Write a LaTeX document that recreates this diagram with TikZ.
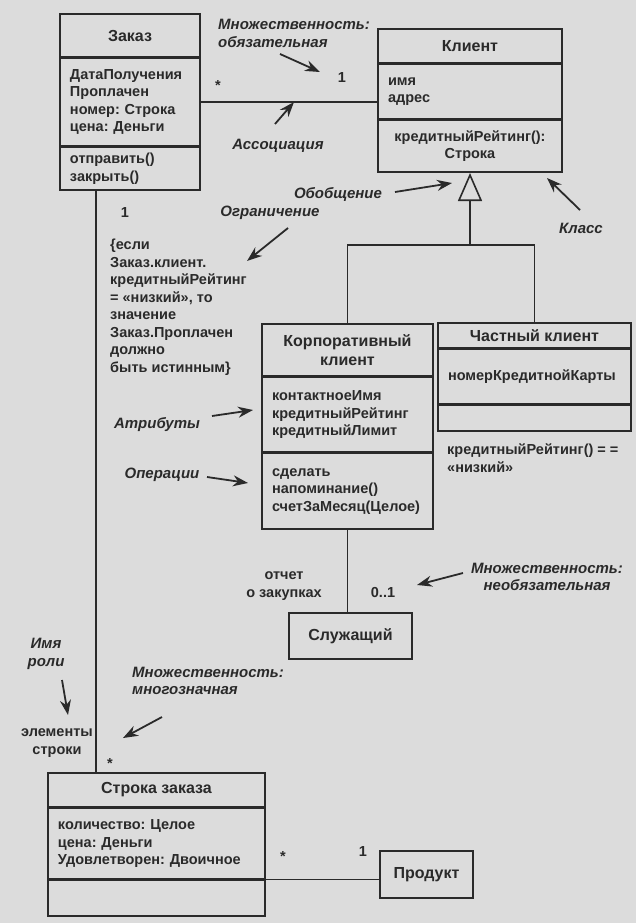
\documentclass[tikz,border=0pt]{standalone}
\usepackage{fontspec}
\setmainfont{Liberation Sans}
\usetikzlibrary{positioning,arrows.meta}
\definecolor{paper}{HTML}{DCDCDC}
\definecolor{ink}{HTML}{2A2A2A}

\begin{document}
\frenchspacing
\begin{tikzpicture}[x=1bp, y=-1bp, text=ink,
    font=\fontsize{14.5bp}{17.5bp}\selectfont\bfseries,
    part/.style={draw=ink, line width=1.6bp, inner xsep=10bp, inner ysep=0bp, align=left},
    title/.style={part, align=center, font=\fontsize{16bp}{19bp}\selectfont\bfseries},
    note/.style={font=\fontsize{15bp}{17.5bp}\selectfont\bfseries\itshape, align=left, inner sep=0bp},
    plain/.style={align=left, inner sep=0bp},
    link/.style={draw=ink, line width=1.6bp},
    gen/.style={link, -{Triangle[open, length=28bp, width=24bp, line width=1.6bp]}},
    pointer/.style={draw=ink, line width=1.8bp, -{Stealth[length=15bp, width=11bp]}}]
  \useasboundingbox (0,0) rectangle (636,923);
  \fill[paper] (0,0) rectangle (636,923);

  % classes
  \node[title, minimum width=140bp, minimum height=43bp] (zakazN) at (130,35.5) {Заказ};
  \node[part, below=0pt of zakazN, minimum width=140bp, minimum height=87bp, text width=120bp] (zakazA)
    {ДатаПолучения\\Проплачен\\номер: Строка\\цена: Деньги};
  \node[part, below=0pt of zakazA, minimum width=140bp, minimum height=43bp, text width=120bp] (zakazO)
    {отправить()\\закрыть()};

  \node[title, minimum width=184bp, minimum height=34bp] (klientN) at (470,46) {Клиент};
  \node[part, below=0pt of klientN, minimum width=184bp, minimum height=54bp, text width=164bp] (klientA)
    {имя\\адрес};
  \node[part, align=center, below=0pt of klientA, minimum width=184bp, minimum height=52bp] (klientO)
    {кредитныйРейтинг():\\Строка};

  \node[title, minimum width=171bp, minimum height=52bp] (korpN) at (347.5,350) {Корпоративный\\клиент};
  \node[part, below=0pt of korpN, minimum width=171bp, minimum height=74bp, text width=151bp] (korpA)
    {контактноеИмя\\кредитныйРейтинг\\кредитныйЛимит};
  \node[part, below=0pt of korpA, minimum width=171bp, minimum height=76bp, text width=151bp] (korpO)
    {сделать\\напоминание()\\счетЗаМесяц(Целое)};

  \node[title, minimum width=193bp, minimum height=25bp] (chastN) at (534.5,335.5) {Частный клиент};
  \node[part, below=0pt of chastN, minimum width=193bp, minimum height=54bp, text width=173bp] (chastA)
    {номерКредитнойКарты};
  \node[part, below=0pt of chastA, minimum width=193bp, minimum height=26bp] (chastO) {};

  \node[title, minimum width=123bp, minimum height=46bp] (sluzh) at (350.5,636) {Служащий};

  \node[title, minimum width=217bp, minimum height=34bp] (strokaN) at (156.5,790) {Строка заказа};
  \node[part, below=0pt of strokaN, minimum width=217bp, minimum height=70bp, text width=197bp] (strokaA)
    {количество: Целое\\цена: Деньги\\Удовлетворен: Двоичное};
  \node[part, below=0pt of strokaA, minimum width=217bp, minimum height=36bp] (strokaO) {};

  \node[title, minimum width=93bp, minimum height=47bp] (produkt) at (426.5,874.5) {Продукт};

  % relations
  \draw[link] (zakazA.east) -- (zakazA.east -| klientA.west);
  \coordinate (orderDown) at ([xshift=37bp]zakazO.south west);
  \draw[link] (orderDown) -- (orderDown |- strokaN.north);
  \coordinate (genJoin) at (470,245);
  \draw[link] (korpN.north) |- (genJoin) -| (chastN.north);
  \draw[gen] (genJoin) -- (klientO.south);
  \draw[link] (korpO.south) -- (korpO.south |- sluzh.north);
  \draw[link] (strokaO.north east) -- (strokaO.north east -| produkt.west);

  % multiplicities and roles
  \node[plain] (mStarA) at (218,86) {*};
  \node[plain] (mOneA) at (342,78) {1};
  \node[plain] (mOneB) at (125,213) {1};
  \node[plain] (mOpt) at (383,593) {0..1};
  \node[plain] (mStarB) at (110,764) {*};
  \node[plain] (mStarC) at (283,857) {*};
  \node[plain] (mOneC) at (363,852) {1};
  \node[plain, align=center] (reportRole) at (284,586) {отчет\\о закупках};
  \node[plain, align=center] (lineRole) at (57,743) {элементы\\строки};
  \node[plain, anchor=west] (constraint) at (110,307)
    {\{если\\Заказ.клиент.\\кредитныйРейтинг\\= «низкий», то\\значение\\Заказ.Проплачен\\должно\\быть истинным\}};
  \node[plain, anchor=north west] (lowNote) at (447,444) {кредитныйРейтинг() = =\\«низкий»};

  % annotations
  \node[note, anchor=west] (multMust) at (218,33.5) {Множественность:\\обязательная};
  \node[note] (assocLbl) at (278,146) {Ассоциация};
  \node[note] (genLbl) at (338,194) {Обобщение};
  \node[note] (constrLbl) at (270,213) {Ограничение};
  \node[note] (classLbl) at (581,228) {Класс};
  \node[note] (attrLbl) at (157,425) {Атрибуты};
  \node[note] (opsLbl) at (162,475) {Операции};
  \node[note, align=center] (multOpt) at (547,577) {Множественность:\\необязательная};
  \node[note, align=center] (roleLbl) at (46,654) {Имя\\роли};
  \node[note, anchor=west] (multMany) at (132,681) {Множественность:\\многозначная};

  \coordinate (multMustFrom) at (280,54);   \coordinate (multMustTo) at (320,72);
  \coordinate (assocFrom) at (275,124);     \coordinate (assocTo) at (294,102);
  \coordinate (genFrom) at (395,192);       \coordinate (genTo) at (452,183);
  \coordinate (constrFrom) at (288,228);    \coordinate (constrTo) at (247,261);
  \coordinate (classFrom) at (580,210);     \coordinate (classTo) at (547,178);
  \coordinate (attrFrom) at (212,416);      \coordinate (attrTo) at (253,410);
  \coordinate (opsFrom) at (207,477);       \coordinate (opsTo) at (248,483);
  \coordinate (multOptFrom) at (463,573);   \coordinate (multOptTo) at (417,585);
  \coordinate (roleFrom) at (62,680);       \coordinate (roleTo) at (68,715);
  \coordinate (multManyFrom) at (162,717);  \coordinate (multManyTo) at (123,738);
  \foreach \a in {multMust,assoc,gen,constr,class,attr,ops,multOpt,role,multMany}
    \draw[pointer] (\a From) -- (\a To);
\end{tikzpicture}
\end{document}
